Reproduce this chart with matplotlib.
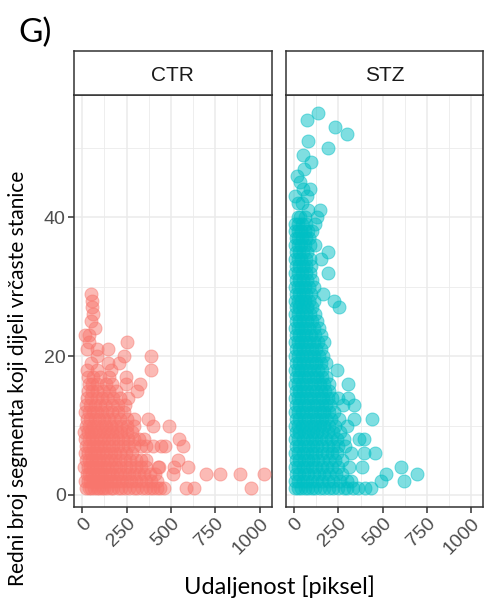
import numpy as np
import matplotlib.pyplot as plt
from matplotlib.ticker import MultipleLocator

# Udaljenost [piksel] per redni broj segmenta (index 0 -> segment 1)
ctr_levels = [
    [20, 35, 50, 65, 80, 95, 110, 125, 140, 160, 175, 200, 220, 240, 265, 290, 310, 335, 360, 380, 400, 420, 440, 460, 585, 632, 950],
    [15, 30, 45, 60, 75, 90, 105, 120, 140, 160, 180, 200, 225, 250, 275, 300, 330, 360, 390, 420],
    [25, 40, 55, 70, 90, 110, 130, 150, 170, 195, 215, 240, 265, 290, 320, 350, 380, 410, 509, 695, 775, 892, 1024],
    [10, 30, 45, 60, 80, 100, 120, 140, 165, 190, 215, 245, 270, 300, 330, 360, 424, 433, 519, 598],
    [20, 35, 55, 75, 95, 115, 140, 160, 185, 210, 240, 270, 300, 330, 360, 541],
    [15, 30, 50, 70, 90, 110, 135, 160, 185, 215, 245, 280],
    [20, 40, 60, 80, 100, 125, 150, 175, 200, 230, 260, 290, 330, 360, 396, 443, 468, 566],
    [15, 35, 55, 75, 100, 125, 150, 175, 200, 230, 260, 290, 320, 350, 547],
    [10, 30, 50, 70, 95, 120, 145, 170, 195, 220, 250, 280],
    [20, 40, 60, 85, 110, 135, 160, 190, 220, 250, 290, 398, 490],
    [25, 45, 70, 95, 120, 150, 180, 210, 250, 290, 371],
    [15, 35, 60, 85, 110, 140, 170, 200, 235],
    [20, 45, 70, 100, 130, 165, 200, 240],
    [25, 50, 80, 110, 140, 175, 215, 260],
    [30, 55, 85, 115, 150, 190, 311],
    [40, 55, 80, 131, 170, 244, 324],
    [32, 60, 100, 150, 245],
    [27, 83, 159, 386],
    [50, 146, 206],
    [83, 235, 386],
    [27, 83, 146],
    [36, 254],
    [17, 36],
    [70],
    [49],
    [60],
    [55],
    [52],
    [49],
]

stz_levels = [
    [5, 20, 40, 60, 80, 100, 120, 145, 170, 195, 220, 250, 280, 300, 330, 360, 400, 433],
    [5, 25, 50, 75, 100, 130, 160, 190, 220, 260, 300, 324, 489, 620],
    [10, 30, 55, 80, 110, 140, 170, 200, 235, 270, 517, 695],
    [5, 25, 50, 75, 100, 125, 155, 185, 215, 250, 311, 386, 601],
    [10, 30, 55, 80, 105, 135, 165, 195, 230, 270],
    [5, 25, 50, 75, 100, 125, 155, 185, 215, 245, 320, 395, 455],
    [10, 30, 55, 80, 105, 130, 160, 190, 220, 250, 290],
    [5, 25, 50, 75, 100, 125, 150, 180, 210, 240, 280, 367, 395],
    [10, 30, 55, 80, 105, 130, 160, 190, 220, 260],
    [5, 20, 45, 70, 95, 120, 145, 170, 200, 230, 300],
    [10, 30, 55, 80, 105, 130, 155, 180, 210, 254, 339, 440],
    [5, 25, 45, 70, 95, 120, 145, 170, 195, 225],
    [10, 30, 55, 80, 105, 130, 155, 180, 205, 274, 339],
    [5, 20, 40, 65, 90, 115, 140, 165, 190, 215, 250, 305],
    [10, 30, 50, 75, 100, 125, 150, 175, 200],
    [5, 25, 45, 70, 95, 120, 145, 170, 195, 305],
    [10, 30, 55, 80, 105, 130, 155, 180],
    [5, 20, 40, 60, 85, 110, 135, 160, 242],
    [10, 30, 50, 75, 100, 125, 150, 180],
    [5, 25, 45, 65, 90, 115, 140, 165],
    [10, 30, 50, 75, 100, 125, 150],
    [5, 20, 40, 60, 85, 110, 135, 170],
    [10, 30, 50, 70, 95, 120, 150],
    [5, 20, 40, 60, 85, 110, 140],
    [10, 30, 50, 75, 100, 130],
    [5, 25, 45, 65, 90, 120],
    [10, 30, 50, 75, 100, 254],
    [5, 20, 40, 60, 85, 110, 226],
    [10, 30, 50, 70, 95, 165],
    [5, 20, 40, 60, 85, 110],
    [10, 30, 50, 75, 100],
    [5, 25, 45, 65, 90, 193],
    [10, 30, 50, 70, 95],
    [5, 20, 40, 65, 90, 152],
    [10, 30, 50, 75, 193],
    [5, 20, 40, 60, 90, 118],
    [10, 25, 45, 65, 85],
    [5, 20, 40, 60, 80, 100],
    [6, 25, 43, 70, 118],
    [20, 34, 60, 127],
    [80, 146],
    [24, 43],
    [6, 71],
    [52, 90],
    [34],
    [15],
    [58],
    [96],
    [52],
    [189],
    [77],
    [301],
    [230],
    [71],
    [137],
]

groups = ["CTR", "STZ"]
colors = ["#F8766D", "#00BFC4"]
x_ticks = [0, 250, 500, 750, 1000]
y_ticks = [0, 20, 40]


def flatten(levels):
    xs, ys = [], []
    for i, row in enumerate(levels):
        xs.extend(row)
        ys.extend([i + 1] * len(row))
    return np.array(xs, float), np.array(ys, float)


fig = plt.figure(figsize=(4.88, 6.10), dpi=100)
W, H = 488.0, 610.0
lefts = [74, 285.7]
pw = 197.7
ptop, pbot = 95.0, 506.7
stop = 51.0

for k, (name, levels, col) in enumerate(zip(groups, [ctr_levels, stz_levels], colors)):
    ax = fig.add_axes([lefts[k] / W, 1 - pbot / H, pw / W, (pbot - ptop) / H])
    x, y = flatten(levels)
    ax.scatter(x, y, s=88, color=col, alpha=0.5, edgecolors=col, linewidths=0.7, zorder=3)
    ax.set_xlim(-47, 1068)
    ax.set_ylim(-1.69, 57.6)
    ax.set_xticks(x_ticks)
    ax.set_yticks(y_ticks)
    ax.xaxis.set_minor_locator(MultipleLocator(125))
    ax.yaxis.set_minor_locator(MultipleLocator(10))
    ax.grid(which="major", color="#EBEBEB", lw=1.1, zorder=0)
    ax.grid(which="minor", color="#EBEBEB", lw=0.6, zorder=0)
    ax.set_axisbelow(True)
    for sp in ax.spines.values():
        sp.set_color("#333333")
        sp.set_linewidth(1.1)
    ax.tick_params(which="minor", length=0)
    ax.tick_params(which="major", length=4, width=1.1, color="#333333",
                   labelsize=14, labelcolor="#4D4D4D", pad=2)
    for lab in ax.get_xticklabels() + ax.get_yticklabels():
        lab.set_family("Liberation Sans")
    for lab in ax.get_xticklabels():
        lab.set_rotation(45)
        lab.set_ha("right")
        lab.set_va("top")
        lab.set_rotation_mode("anchor")
    if k == 1:
        ax.tick_params(axis="y", left=False, labelleft=False)

    # strip
    sax = fig.add_axes([lefts[k] / W, 1 - ptop / H, pw / W, (ptop - stop) / H])
    sax.set_xticks([])
    sax.set_yticks([])
    for sp in sax.spines.values():
        sp.set_color("#333333")
        sp.set_linewidth(1.1)
    sax.text(0.5, 0.45, name, ha="center", va="center", fontsize=15,
             color="#1A1A1A", family="Liberation Sans", transform=sax.transAxes)

fig.text(18 / W, 1 - 33 / H, "G)", fontsize=24, family="Lato", va="center", ha="left")
fig.text(279 / W, 1 - 587 / H, "Udaljenost [piksel]", fontsize=17, family="Lato",
         ha="center", va="center")
fig.text(18 / W, 1 - 378 / H, "Redni broj segmenta koji dijeli vrčaste stanice",
         fontsize=15, family="Lato", rotation=90, ha="center", va="center")

fig.savefig("out.png", dpi=100)
